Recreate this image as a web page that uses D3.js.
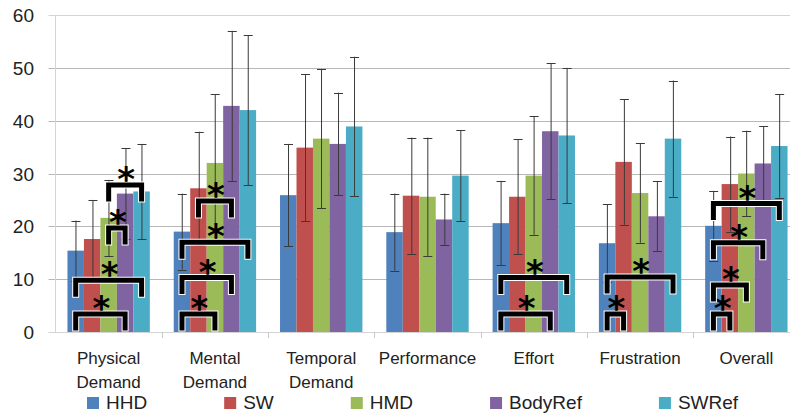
<!DOCTYPE html>
<html>
<head>
<meta charset="utf-8">
<script src="https://cdn.jsdelivr.net/npm/d3@7"></script>
<style>
  body { margin: 0; background: #fff; }
  svg { display: block; font-family: "Liberation Sans", Arial, sans-serif; }
</style>
</head>
<body>
<svg id="chart" width="790" height="418"></svg>
<script>
// categories (two-line labels) and series
var categories = ["Physical Demand", "Mental Demand", "Temporal Demand", "Performance", "Effort", "Frustration", "Overall"];
var labelLines = [["Physical", "Demand"], ["Mental", "Demand"], ["Temporal", "Demand"], ["Performance"], ["Effort"], ["Frustration"], ["Overall"]];
var series = ["HHD", "SW", "HMD", "BodyRef", "SWRef"];
var colors = ["#4f81bd", "#c0504d", "#9bbb59", "#8064a2", "#4bacc6"];
var yTicks = [0, 10, 20, 30, 40, 50, 60];

// means per series, one value per category
var hhd     = [15.4, 19.0, 25.9, 18.9, 20.6, 16.8, 20.1];
var sw      = [17.6, 27.2, 34.9, 25.8, 25.6, 32.2, 28.0];
var hmd     = [21.6, 32.0, 36.6, 25.6, 29.6, 26.3, 30.0];
var bodyRef = [26.2, 42.8, 35.6, 21.3, 38.0, 21.9, 31.9];
var swRef   = [26.6, 42.0, 38.9, 29.6, 37.2, 36.6, 35.2];

// error bar half widths
var hhdErr     = [5.7, 7.2, 9.7, 7.3, 8.0, 7.4, 6.6];
var swErr      = [7.4, 10.7, 13.9, 11.0, 10.9, 11.9, 9.0];
var hmdErr     = [7.2, 13.0, 13.2, 11.2, 11.2, 9.4, 8.1];
var bodyRefErr = [8.6, 14.2, 9.7, 4.9, 12.9, 6.6, 7.0];
var swRefErr   = [9.0, 14.2, 13.2, 8.6, 12.8, 11.0, 9.8];

// significance brackets: [category index, from series, to series, height]
var sigPairs = [
  [0, 0, 3, 3.4], [0, 0, 4, 9.8], [0, 2, 3, 19.7], [0, 2, 4, 27.8],
  [1, 0, 2, 3.4], [1, 0, 3, 10.3], [1, 0, 4, 17.0], [1, 1, 3, 24.8],
  [4, 0, 3, 3.4], [4, 0, 4, 10.3],
  [5, 0, 1, 3.4], [5, 0, 4, 10.4],
  [6, 0, 1, 3.4], [6, 0, 2, 8.9], [6, 0, 3, 16.9], [6, 0, 4, 24.3]
];

var means = [hhd, sw, hmd, bodyRef, swRef];
var errs = [hhdErr, swErr, hmdErr, bodyRefErr, swRefErr];

var svg = d3.select("#chart");
var margin = { left: 55.5, top: 15, bottom: 332 };
var plotRight = 799.5;

var x0 = d3.scaleBand().domain(categories).range([margin.left, plotRight]).paddingInner(0.225).paddingOuter(0.1125);
var x1 = d3.scaleBand().domain(series).range([0, x0.bandwidth()]);
var y = d3.scaleLinear().domain([0, 60]).range([margin.bottom, margin.top]);

// gridlines
svg.append("g").selectAll("line")
  .data(yTicks)
  .enter().append("line")
  .attr("x1", margin.left - 7).attr("x2", 790)
  .attr("y1", function (d) { return Math.round(y(d)) + 0.5; })
  .attr("y2", function (d) { return Math.round(y(d)) + 0.5; })
  .attr("stroke", function (d) { return d === 60 || d === 0 ? "#d4d4d4" : "#b8b8b8"; })
  .attr("stroke-width", 1);

// left axis line
svg.append("line")
  .attr("x1", margin.left).attr("x2", margin.left)
  .attr("y1", y(60)).attr("y2", y(0))
  .attr("stroke", "#d4d4d4");

// y tick labels
svg.append("g").selectAll("text")
  .data(yTicks)
  .enter().append("text")
  .attr("x", 34).attr("y", function (d) { return y(d) + 7; })
  .attr("text-anchor", "end")
  .attr("font-size", 19)
  .attr("fill", "#222")
  .text(function (d) { return d; });

// category tick marks
var bounds = categories.map(function (c) { return x0(c) - x0.step() * x0.paddingInner() / 2; });
svg.append("g").selectAll("line")
  .data(bounds.slice(1))
  .enter().append("line")
  .attr("x1", function (d) { return Math.round(d) + 0.5; })
  .attr("x2", function (d) { return Math.round(d) + 0.5; })
  .attr("y1", y(0)).attr("y2", y(0) + 6)
  .attr("stroke", "#c8c8c8");

// bars
var groups = svg.append("g").selectAll("g")
  .data(categories)
  .enter().append("g")
  .attr("transform", function (c) { return "translate(" + x0(c) + ",0)"; });

function rows(c, ci) {
  return series.map(function (s, si) { return { s: s, si: si, v: means[si][ci], e: errs[si][ci] }; });
}

groups.selectAll("rect")
  .data(rows)
  .enter().append("rect")
  .attr("x", function (d) { return x1(d.s); })
  .attr("y", function (d) { return y(d.v); })
  .attr("width", x1.bandwidth())
  .attr("height", function (d) { return y(0) - y(d.v); })
  .attr("fill", function (d) { return colors[d.si]; });

// error bars
var eb = groups.selectAll("g.err")
  .data(rows)
  .enter().append("g").attr("class", "err")
  .attr("stroke", "#3a3a3a").attr("stroke-width", 1);

function mid(d) { return Math.round(x1(d.s) + x1.bandwidth() / 2); }

eb.append("line")
  .attr("x1", function (d) { return mid(d) + 0.5; })
  .attr("x2", function (d) { return mid(d) + 0.5; })
  .attr("y1", function (d) { return y(d.v + d.e); })
  .attr("y2", function (d) { return y(d.v - d.e); });

[1, -1].forEach(function (sign) {
  eb.append("line")
    .attr("x1", function (d) { return mid(d) - 4; })
    .attr("x2", function (d) { return mid(d) + 5; })
    .attr("y1", function (d) { return Math.round(y(d.v + sign * d.e)) + 0.5; })
    .attr("y2", function (d) { return Math.round(y(d.v + sign * d.e)) + 0.5; });
});

// significance brackets
function cx(ci, si) { return x0(categories[ci]) + x1(series[si]) + x1.bandwidth() / 2; }
var leg = 14;
var sig = svg.append("g").selectAll("g")
  .data(sigPairs)
  .enter().append("g");

function bracketPath(d) {
  var a = cx(d[0], d[1]), b = cx(d[0], d[2]), h = y(d[3]);
  var bottom = Math.min(h + leg, y(0) - 3);
  return "M" + a + "," + bottom + "V" + h + "H" + b + "V" + bottom;
}
sig.append("path")
  .attr("d", bracketPath)
  .attr("fill", "none").attr("stroke", "#fff").attr("stroke-width", 7)
  .attr("stroke-linecap", "square").attr("stroke-linejoin", "miter");
sig.append("path")
  .attr("d", bracketPath)
  .attr("fill", "none").attr("stroke", "#000").attr("stroke-width", 5)
  .attr("stroke-linecap", "square").attr("stroke-linejoin", "miter");
sig.append("text")
  .attr("x", function (d) { return (cx(d[0], d[1]) + cx(d[0], d[2])) / 2 + 1; })
  .attr("y", function (d) { return y(d[3]) - 13 + 19; })
  .attr("text-anchor", "middle")
  .attr("font-family", "DejaVu Sans, sans-serif")
  .attr("font-weight", "bold")
  .attr("font-size", 34)
  .attr("fill", "#000")
  .text("*");

// category labels
var xl = svg.append("g").selectAll("text")
  .data(categories)
  .enter().append("text")
  .attr("x", function (c) { return x0(c) + x0.bandwidth() / 2; })
  .attr("y", 364)
  .attr("text-anchor", "middle")
  .attr("font-size", 17)
  .attr("fill", "#222");
xl.selectAll("tspan")
  .data(function (c, i) { return labelLines[i]; })
  .enter().append("tspan")
  .attr("x", function () { return d3.select(this.parentNode).attr("x"); })
  .attr("dy", function (d, i) { return i === 0 ? 0 : 24; })
  .text(function (d) { return d; });

// legend
var legend = svg.append("g");
var lx = 87;
series.forEach(function (s, i) {
  var item = legend.append("g").attr("transform", "translate(" + lx + ",0)");
  item.append("rect").attr("x", 0).attr("y", 397).attr("width", 12).attr("height", 12).attr("fill", colors[i]);
  var t = item.append("text").attr("x", 19).attr("y", 409).attr("font-size", 19).attr("fill", "#222").text(s);
  lx += 19 + t.node().getComputedTextLength() + 77;
});
</script>
</body>
</html>
